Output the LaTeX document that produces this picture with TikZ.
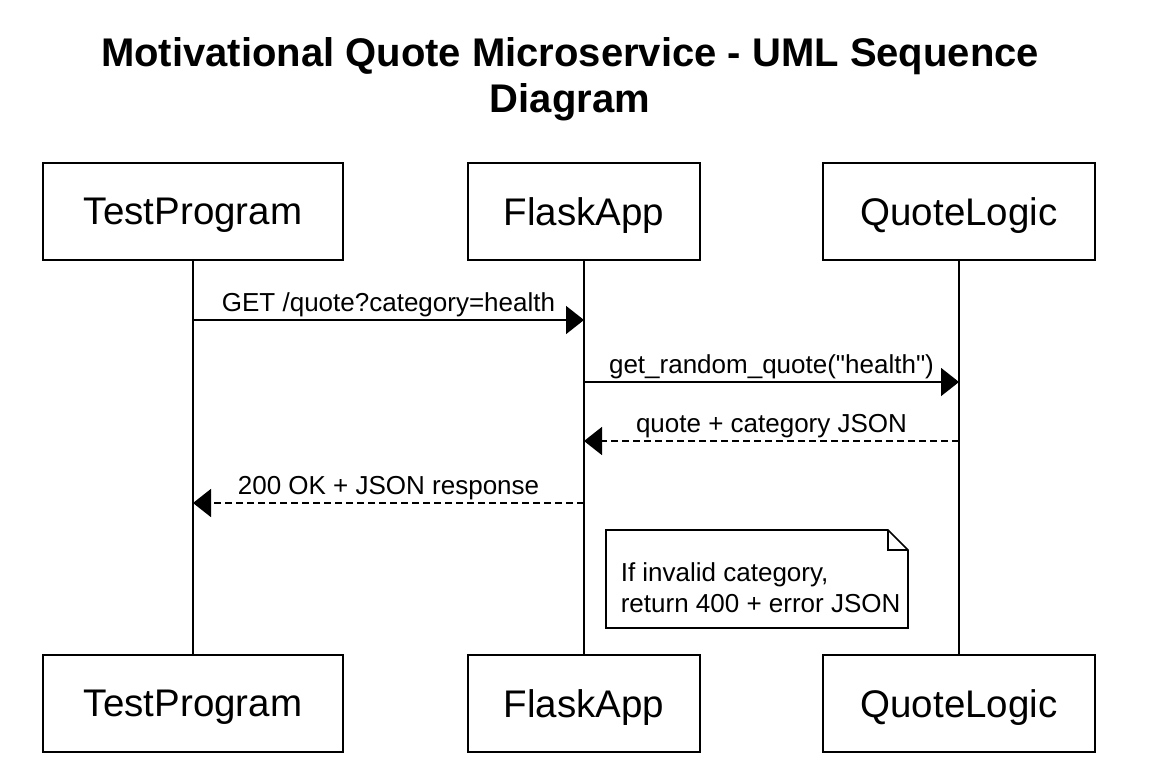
\documentclass[tikz,border=0pt]{standalone}
\usepackage{fontspec}
\setmainfont{Liberation Sans}[Ligatures=TeXOff]
\usetikzlibrary{arrows.meta}

\begin{document}
\begin{tikzpicture}[x=1pt, y=-1pt, line width=1.6pt,
  every node/.style={font=\fontsize{26}{31}\selectfont},
  actor/.style={draw, inner sep=0pt, text depth=0pt, minimum height=97pt, font=\fontsize{38.5}{44}\selectfont},
  msg/.style={-{Triangle[length=18pt,width=28pt]}},
  reply/.style={msg, dash pattern=on 7pt off 4pt}]
\useasboundingbox[fill=white] (0,0) rectangle (1158,766);
% title
\node[anchor=north, inner sep=0pt, align=center, font=\fontsize{40}{46}\selectfont\bfseries] (title) at (570,37)
  {Motivational Quote Microservice - UML Sequence\\Diagram};
% actors
\node[actor, minimum width=300pt] (tp) at (193,211.5) {TestProgram};
\node[actor, minimum width=232pt] (fa) at (584,211.5) {FlaskApp};
\node[actor, minimum width=272pt] (ql) at (959,211.5) {QuoteLogic};
\node[actor, minimum width=300pt] (tpb) at (193,703.5) {TestProgram};
\node[actor, minimum width=232pt] (fab) at (584,703.5) {FlaskApp};
\node[actor, minimum width=272pt] (qlb) at (959,703.5) {QuoteLogic};
% lifelines
\draw (tp.south) -- (tpb.north);
\draw (fa.south) -- (fab.north);
\draw (ql.south) -- (qlb.north);
% messages
\coordinate (tp1) at (193,320); \coordinate (fa1) at (584,320);
\coordinate (fa2) at (584,382); \coordinate (ql2) at (959,382);
\coordinate (ql3) at (959,441); \coordinate (fa3) at (584,441);
\coordinate (fa4) at (584,503); \coordinate (tp4) at (193,503);
\draw[msg] (tp1) -- (fa1) node[midway, above, inner sep=2pt] (m1) {GET /quote?category=health};
\draw[msg] (fa2) -- (ql2) node[midway, above, inner sep=2pt] (m2) {get\_random\_quote("health")};
\draw[reply] (ql3) -- (fa3) node[midway, above, inner sep=2pt] (m3) {quote + category JSON};
\draw[reply] (fa4) -- (tp4) node[midway, above, inner sep=2pt] (m4) {200 OK + JSON response};
% note
\draw (606,530) -- (888,530) -- (908,550) -- (908,628) -- (606,628) -- cycle;
\draw (888,530) -- (888,550) -- (908,550);
\node[anchor=west, align=left, inner sep=0pt] (note) at (620,588)
  {If invalid category,\\return 400 + error JSON};
\end{tikzpicture}
\end{document}
